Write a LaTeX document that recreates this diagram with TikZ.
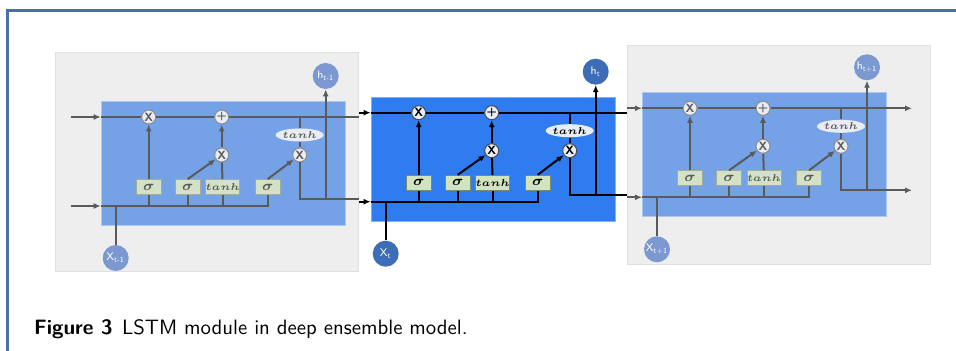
\documentclass[tikz,border=0pt]{standalone}
\usepackage{bm}
\usetikzlibrary{arrows.meta,shapes.geometric}

\definecolor{framecol}{HTML}{4A6FA5}
\definecolor{panelcol}{HTML}{EEEEEE}
\definecolor{paneledge}{HTML}{E0E0E0}
% faded cells
\definecolor{fadeline}{HTML}{5A5A5A}
\definecolor{fadeblue}{HTML}{75A1E7}
\definecolor{fadegate}{HTML}{D3E2C6}
\definecolor{fadeop}{HTML}{E9EDF3}
\definecolor{fadeio}{HTML}{7B98D0}
% current cell
\definecolor{brightblue}{HTML}{2E7CF0}
\definecolor{brightgate}{HTML}{D0E5BE}
\definecolor{brightop}{HTML}{E8EEF8}
\definecolor{brightio}{HTML}{3E6DB7}

\colorlet{wirecol}{black}
\colorlet{boxcol}{brightblue}
\colorlet{gatecol}{brightgate}
\colorlet{opcol}{brightop}
\colorlet{iocol}{brightio}

\tikzset{
  >={Latex[length=3.5pt,width=3pt]},
  wire/.style={draw=wirecol, line width=1pt},
  cellbox/.style={rectangle, fill=boxcol, draw=boxcol!60!white, line width=0.5pt,
    minimum width=122pt, minimum height=62pt, inner sep=0pt, anchor=north west},
  gate/.style={rectangle, fill=gatecol, draw=gatecol!60!wirecol, line width=0.4pt,
    minimum width=12.5pt, minimum height=7.5pt, inner sep=0pt, text=wirecol,
    font=\fontsize{7.5}{8}\selectfont},
  small/.style={font=\fontsize{5}{6}\selectfont},
  op/.style={circle, fill=opcol, draw=wirecol!70!white, line width=0.5pt,
    minimum size=7pt, inner sep=0pt, text=wirecol,
    font=\sffamily\bfseries\fontsize{6}{7}\selectfont},
  squash/.style={ellipse, fill=opcol, minimum width=17pt, minimum height=6.5pt,
    inner sep=0pt, text=wirecol, font=\fontsize{5}{6}\selectfont},
  io/.style={circle, fill=iocol, minimum size=13pt, inner sep=0pt, text=white,
    font=\sffamily\fontsize{5.5}{6}\selectfont},
  panel/.style={rectangle, fill=panelcol, draw=paneledge, line width=0.5pt,
    minimum width=151.5pt, minimum height=109.5pt, inner sep=0pt, anchor=north west},
  faded/.style={/utils/exec={\colorlet{wirecol}{fadeline}\colorlet{boxcol}{fadeblue}%
    \colorlet{gatecol}{fadegate}\colorlet{opcol}{fadeop}\colorlet{iocol}{fadeio}}},
  % one LSTM cell, origin at the top left corner of its box
  lstm/.pic={
    \node[cellbox] (-box) at (0,0) {};
    \node[gate] (-sf) at (48,86) {$\bm{\sigma}$};
    \node[gate] (-si) at (87,86) {$\bm{\sigma}$};
    \node[gate, small] (-tc) at (122,86) {$\bm{tanh}$};
    \node[gate] (-so) at (167,86) {$\bm{\sigma}$};
    \node[op] (-fmul) at (48,16) {X};
    \node[op] (-add) at (121,16) {+};
    \node[op] (-imul) at (121,54) {X};
    \node[op] (-omul) at (199,54) {X};
    \node[squash] (-th) at (199,34) {$\bm{tanh}$};
    \node[io] (-x) at (15,157) {X\textsubscript{#1}};
    \node[io] (-h) at (225,-25) {h\textsubscript{#1}};
    \coordinate (-cin) at (0,16);
    \coordinate (-hin) at (0,105);
    \coordinate (-cout) at (244,16);
    \coordinate (-hout) at (244,98);
    \coordinate (-bus) at (167,105);
    \coordinate (-tap) at (199,16);
    \coordinate (-turn) at (199,98);
    \coordinate (-split) at (225,98);
    % cell state and input bus
    \draw[wire] (-cin) -- (-fmul) -- (-add) -- (-cout);
    \draw[wire] (-hin) -- (-bus) -- (-so);
    \draw[wire] (-x) -- (-x |- -hin);
    \foreach \g in {sf,si,tc} \draw[wire] (-\g) -- (-\g |- -hin);
    % gates
    \draw[wire,->] (-sf) -- (-fmul);
    \draw[wire,->] (-si.north) -- (-imul);
    \draw[wire] (-tc) -- (-imul);
    \draw[wire,->] (-imul) -- (-add);
    \draw[wire,->] (-so.north) -- (-omul);
    \draw[wire] (-tap) -- (-th) -- (-omul);
    % hidden output
    \draw[wire] (-omul) -- (-turn) -- (-hout);
    \draw[wire,->] (-split) -- (-h);
  }
}

\begin{document}
\begin{tikzpicture}[x=0.5pt,y=-0.5pt]
\useasboundingbox (0,0) rectangle (956,351);
\draw[framecol, line width=1.2pt] (956,10.7) -- (7.3,10.7) -- (7.3,351);

% previous step
\node[panel] (Lpanel) at (55,52) {};
\pic[faded] (L) at (100.7,101) {lstm=t-1};
\draw[wire, draw=fadeline, ->] ([xshift=-15pt]L-cin) -- (L-cin);
\draw[wire, draw=fadeline, ->] ([xshift=-15pt]L-hin) -- (L-hin);
\draw[wire, draw=fadeline] (L-cout) -- (L-cout -| Lpanel.east);
\draw[wire, draw=fadeline] (L-hout) -- (L-hout -| Lpanel.east);

% current step
\pic (M) at (370.7,96.7) {lstm=t};
\draw[wire, ->] (M-cin -| Lpanel.east) -- (M-cin);
\draw[wire, ->] (M-hin -| Lpanel.east) -- (M-hin);

% next step
\node[panel] (Rpanel) at (627,45) {};
\draw[wire] (M-cout) -- (M-cout -| Rpanel.west);
\draw[wire] (M-hout) -- (M-hout -| Rpanel.west);
\pic[faded] (R) at (642,92.3) {lstm=t+1};
\draw[wire, draw=fadeline, ->] (R-cin -| Rpanel.west) -- (R-cin);
\draw[wire, draw=fadeline, ->] (R-hin -| Rpanel.west) -- (R-hin);
\draw[wire, draw=fadeline, ->] (R-cout) -- ([xshift=13pt]R-cout);
\draw[wire, draw=fadeline, ->] (R-hout) -- ([xshift=13pt]R-hout);

\node[anchor=base west, font=\sffamily\fontsize{10.4}{12}\selectfont] (caption) at (27,335)
  {\textbf{Figure 3}\hspace{0.45em}LSTM module in deep ensemble model.};
\end{tikzpicture}
\end{document}
